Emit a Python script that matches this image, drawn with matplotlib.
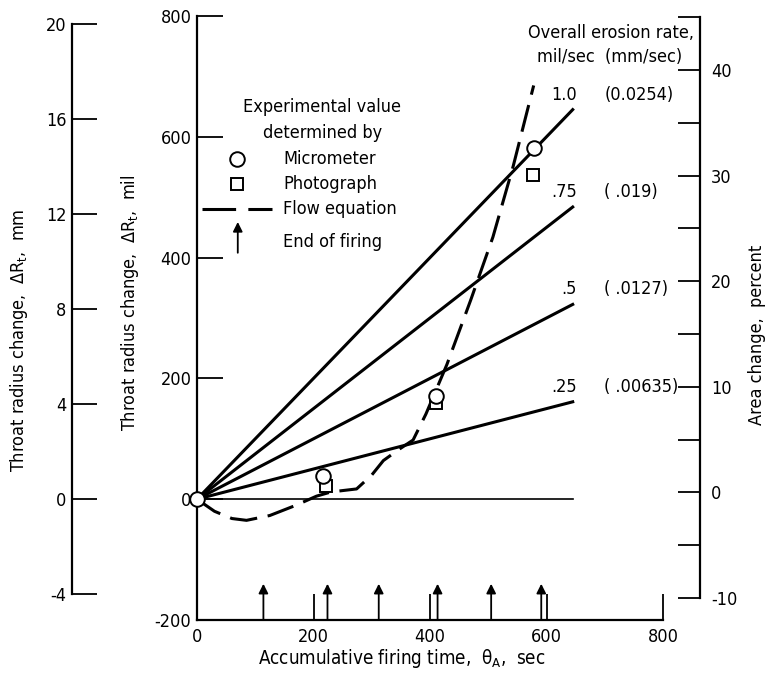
import matplotlib
matplotlib.use('Agg')
import matplotlib.pyplot as plt

plt.rcParams['font.family'] = ['DejaVu Sans']
plt.rcParams['font.stretch'] = 'condensed'
plt.rcParams['mathtext.fontset'] = 'custom'
plt.rcParams['mathtext.rm'] = 'DejaVu Sans:stretch=condensed'
plt.rcParams['mathtext.it'] = 'DejaVu Sans:stretch=condensed'
plt.rcParams['axes.unicode_minus'] = False

# overall erosion rates, mil/sec (straight lines through the origin)
rates = [0.25, 0.5, 0.75, 1.0]
rate_labels = ['.25', '.5', '.75', '1.0']
rate_mm_labels = ['( .00635)', '( .0127)', '( .019)', '(0.0254)']
t_line_end = 645

# experimental values
micro_t = [0, 216, 410, 578]
micro_mil = [0, 39, 171, 581]
photo_t = [222, 410, 576]
photo_mil = [22, 159, 536]

# flow equation (dashed)
flow_t = [0, 30, 60, 85, 125, 170, 205, 230, 274, 300, 320, 346, 371, 393,
          429, 470, 508, 543, 578]
flow_mil = [0, -20, -32, -35, -27, -10, 5, 12, 17, 40, 64, 82, 98, 141,
            223, 330, 434, 552, 685]

# end of firing times, sec
firing_end = [114, 224, 312, 413, 505, 591]

W, H = 767, 675


def fx(px):
    return px / W


def fy(py):
    return 1 - py / H


fig = plt.figure(figsize=(7.67, 6.75), dpi=100)

bottom = fy(620)
height = fy(16) - fy(620)

# main axes (mil)
ax = fig.add_axes([fx(197), bottom, fx(663) - fx(197), height])
ax.set_xlim(0, 800)
ax.set_ylim(-200, 800)
ax.patch.set_visible(False)
for s in ['top', 'right']:
    ax.spines[s].set_visible(False)
for s in ['left', 'bottom']:
    ax.spines[s].set_linewidth(1.6)
ax.set_xticks([0, 200, 400, 600, 800])
ax.set_yticks([-200, 0, 200, 400, 600, 800])
ax.tick_params(direction='in', length=19, width=1.3, labelsize=13)
ax.tick_params(axis='y', pad=4)
ax.tick_params(axis='x', pad=6)

# rate lines
ax.plot([0, t_line_end], [0, 0], color='black', lw=1.2)
for r in rates:
    ax.plot([0, t_line_end], [0, r * t_line_end], color='black', lw=2.2)
for r, lab, mm in zip(rates, rate_labels, rate_mm_labels):
    y = r * t_line_end + 25
    ax.text(652, y, lab, ha='right', va='center', fontsize=13)
    ax.text(699, y, mm, ha='left', va='center', fontsize=13)

# flow equation
ax.plot(flow_t, flow_mil, color='black', lw=2.2, dashes=(9, 3.5))

# experimental points
ax.plot(photo_t, photo_mil, 's', mfc='white', mec='black', ms=9, mew=1.4,
        clip_on=False, zorder=4)
ax.plot(micro_t, micro_mil, 'o', mfc='white', mec='black', ms=10.5, mew=1.4,
        clip_on=False, zorder=5)

# end of firing arrows
for t in firing_end:
    ax.annotate('', xy=(t, -140), xytext=(t, -200),
                arrowprops=dict(arrowstyle='-|>', color='black', lw=1.3,
                                mutation_scale=14, shrinkA=0, shrinkB=0))

# key
ax.text(215, 650, 'Experimental value', ha='center', va='center', fontsize=13)
ax.text(215, 606, 'determined by', ha='center', va='center', fontsize=13)
ax.plot([68], [564], 'o', mfc='white', mec='black', ms=10.5, mew=1.4)
ax.plot([68], [522], 's', mfc='white', mec='black', ms=9, mew=1.4)
ax.plot([8, 128], [481, 481], color='black', lw=2.2, dashes=(11, 4))
ax.annotate('', xy=(70, 459), xytext=(70, 408),
            arrowprops=dict(arrowstyle='-|>', color='black', lw=1.3,
                            mutation_scale=14, shrinkA=0, shrinkB=0))
ax.text(148, 564, 'Micrometer', va='center', fontsize=13)
ax.text(148, 522, 'Photograph', va='center', fontsize=13)
ax.text(148, 481, 'Flow equation', va='center', fontsize=13)
ax.text(148, 426, 'End of firing', va='center', fontsize=13)

# mm axis
ax_mm = fig.add_axes([fx(72), bottom, 0.05, height])
ax_mm.set_ylim(-200 / 39.37, 800 / 39.37)
ax_mm.patch.set_visible(False)
for s in ['top', 'right', 'bottom']:
    ax_mm.spines[s].set_visible(False)
ax_mm.spines['left'].set_linewidth(1.6)
ax_mm.spines['left'].set_bounds(-4, 20)
ax_mm.set_xticks([])
ax_mm.set_yticks([-4, 0, 4, 8, 12, 16, 20])
ax_mm.tick_params(direction='in', length=18, width=1.3, labelsize=13, pad=4)

# area change axis
ax_pct = fig.add_axes([fx(650), bottom, fx(700) - fx(650), height])
ax_pct.set_ylim(-12.08, 45.11)
ax_pct.patch.set_visible(False)
for s in ['top', 'left', 'bottom']:
    ax_pct.spines[s].set_visible(False)
ax_pct.spines['right'].set_linewidth(1.6)
ax_pct.spines['right'].set_bounds(-10, 45)
ax_pct.set_xticks([])
ax_pct.yaxis.tick_right()
ax_pct.set_yticks([-10, 0, 10, 20, 30, 40])
ax_pct.set_yticks([-5, 5, 15, 25, 35, 45], minor=True)
ax_pct.tick_params(which='both', direction='in', length=16, width=1.3,
                   labelsize=13, pad=8)

fig.text(fx(19), fy(340), 'Throat radius change,  $\\Delta R_\\mathrm{t}$,  mm',
         rotation=90, ha='center', va='center', fontsize=13)
fig.text(fx(130), fy(303), 'Throat radius change,  $\\Delta R_\\mathrm{t}$,  mil',
         rotation=90, ha='center', va='center', fontsize=13)
fig.text(fx(757), fy(335), 'Area change,  percent',
         rotation=90, ha='center', va='center', fontsize=13)
fig.text(fx(402), fy(658),
         'Accumulative firing time,  $\\theta_\\mathrm{A}$,  sec',
         ha='center', va='center', fontsize=13.5)
fig.text(fx(611), fy(33), 'Overall erosion rate,', ha='center', va='center',
         fontsize=13)
fig.text(fx(610), fy(57), 'mil/sec  (mm/sec)', ha='center', va='center',
         fontsize=13)

fig.savefig('out.png', dpi=100)
